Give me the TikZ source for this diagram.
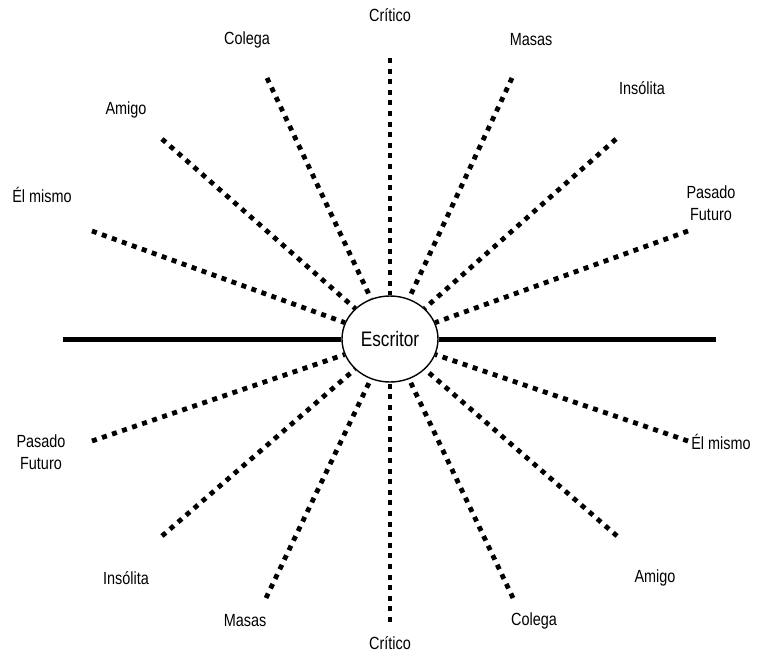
\documentclass[tikz,border=0pt]{standalone}
\usepackage{fontspec}
\setmainfont[FakeStretch=0.82]{Liberation Sans}
\usetikzlibrary{shapes.geometric}
\begin{document}
\begin{tikzpicture}[x=1pt,y=-1pt,
  ray/.style={line width=4.8pt,dash pattern=on 5pt off 5.6pt},
  lbl/.style={inner sep=0pt,align=center,font=\fontsize{17.6}{22}\selectfont},
  hub/.style={ellipse,draw,line width=1.4pt,minimum width=96pt,minimum height=86pt,inner sep=0pt,font=\fontsize{21}{24}\selectfont}]
\useasboundingbox (0,0) rectangle (768,656);
\node[hub] (E) at (390,339) {Escritor};
% horizontal line
\coordinate (HL) at (63,339);
\coordinate (HR) at (716,339);
\draw[line width=5pt] (HL) -- (E.west);
\draw[line width=5pt] (E.east) -- (HR);
% ray ends
\coordinate (uCrit) at (390,58);
\coordinate (uCol) at (267,78);
\coordinate (uAmi) at (162,139);
\coordinate (uElm) at (92,231);
\coordinate (uMas) at (512,78);
\coordinate (uIns) at (616,139);
\coordinate (uPas) at (688,231);
\coordinate (lPas) at (92,441);
\coordinate (lIns) at (162,536);
\coordinate (lMas) at (266,598);
\coordinate (lCrit) at (390,622);
\coordinate (lCol) at (513,598);
\coordinate (lAmi) at (617,536);
\coordinate (lElm) at (688,441);
\foreach \c in {uCrit,uCol,uAmi,uElm,uMas,uIns,uPas,lPas,lIns,lMas,lCrit,lCol,lAmi,lElm}
  \draw[ray] (\c) -- (E);
% labels
\node[lbl] (tCrit) at (390,15) {Crítico};
\node[lbl] (tCol) at (247,40) {Colega};
\node[lbl] (tMas) at (531,40) {Masas};
\node[lbl] (tAmi) at (126,110) {Amigo};
\node[lbl] (tIns) at (642,88) {Insólita};
\node[lbl] (tElm) at (42,195) {Él mismo};
\node[lbl] (tPas) at (711,203) {Pasado\\Futuro};
\node[lbl] (bPas) at (41,452) {Pasado\\Futuro};
\node[lbl] (bElm) at (721,442) {Él mismo};
\node[lbl] (bIns) at (126,578) {Insólita};
\node[lbl] (bAmi) at (655,578) {Amigo};
\node[lbl] (bMas) at (245,621) {Masas};
\node[lbl] (bCol) at (534,621) {Colega};
\node[lbl] (bCrit) at (390,643) {Crítico};
\end{tikzpicture}
\end{document}
